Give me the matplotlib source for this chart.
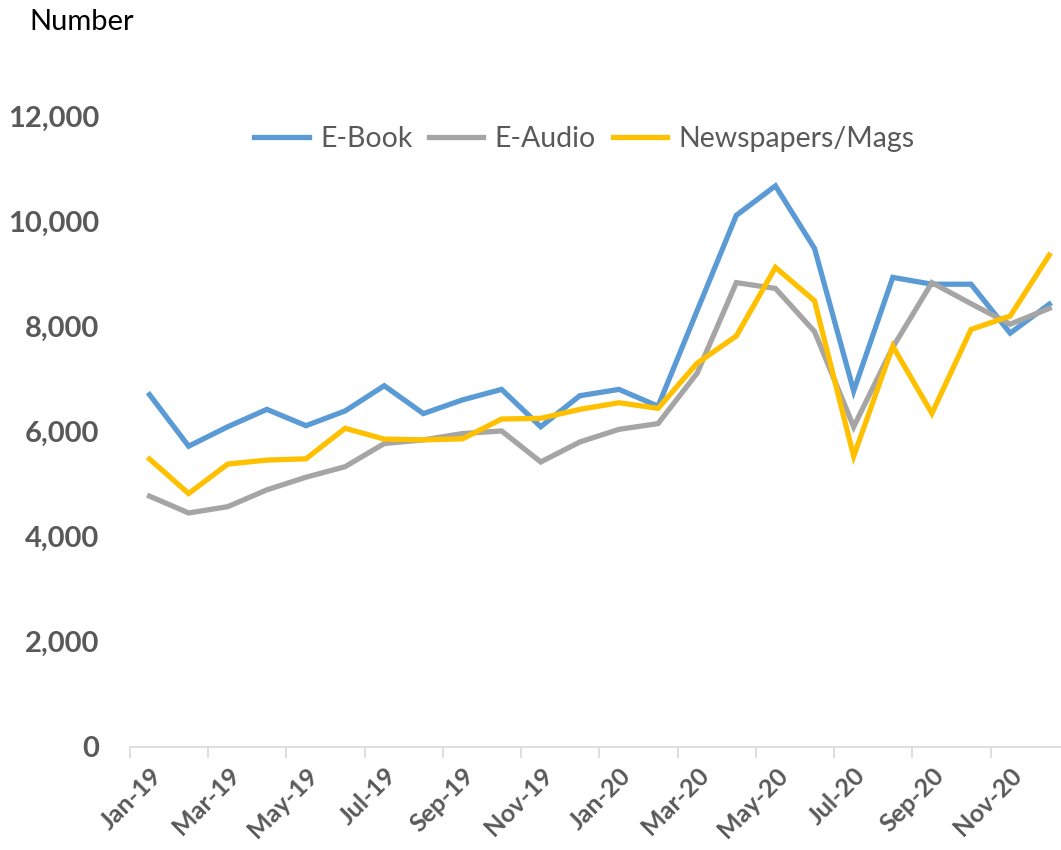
import matplotlib.pyplot as plt

months = ["Jan-19", "Feb-19", "Mar-19", "Apr-19", "May-19", "Jun-19",
          "Jul-19", "Aug-19", "Sep-19", "Oct-19", "Nov-19", "Dec-19",
          "Jan-20", "Feb-20", "Mar-20", "Apr-20", "May-20", "Jun-20",
          "Jul-20", "Aug-20", "Sep-20", "Oct-20", "Nov-20", "Dec-20"]

ebook = [6700, 5720, 6090, 6420, 6110, 6390, 6870, 6340, 6600, 6800, 6090, 6680,
         6800, 6480, 8300, 10110, 10670, 9480, 6770, 8930, 8800, 8800, 7870, 8420]
eaudio = [4770, 4450, 4570, 4890, 5130, 5330, 5770, 5840, 5960, 6010, 5420, 5800,
          6040, 6150, 7110, 8830, 8720, 7900, 6090, 7600, 8830, 8430, 8040, 8340]
news = [5475, 4820, 5380, 5456, 5480, 6060, 5855, 5840, 5860, 6236, 6250, 6420,
        6546, 6440, 7300, 7814, 9120, 8485, 5530, 7620, 6344, 7940, 8194, 9354]

plt.rcParams['font.family'] = ['Lato', 'DejaVu Sans']

fig = plt.figure(figsize=(10.61, 8.5), dpi=100)
ax = fig.add_axes([0.1225, 0.1212, 0.8775, 0.7424])

x = list(range(len(months)))
ax.plot(x, ebook, color='#5B9BD5', linewidth=3.8, solid_joinstyle='miter', label='E-Book')
ax.plot(x, eaudio, color='#A5A5A5', linewidth=3.8, solid_joinstyle='miter', label='E-Audio')
ax.plot(x, news, color='#FFC000', linewidth=3.8, solid_joinstyle='miter', label='Newspapers/Mags')

ax.set_xlim(-0.5, 23.3)
ax.set_ylim(0, 12000)

ax.set_yticks(range(0, 12001, 2000))
ax.set_yticklabels([f"{v:,}" for v in range(0, 12001, 2000)])
ax.tick_params(axis='y', length=0, pad=22, labelsize=21, labelcolor='#595959')
for t in ax.get_yticklabels():
    t.set_fontweight('bold')

ax.set_xticks(x[::2])
ax.set_xticklabels(months[::2], rotation=45, ha='right', rotation_mode='anchor',
                   fontsize=18, fontweight='bold', color='#595959')
ax.tick_params(axis='x', which='major', length=0, pad=12)
ax.set_xticks([i - 0.5 for i in range(0, 24, 2)], minor=True)
ax.tick_params(axis='x', which='minor', length=8, color='#D9D9D9', width=1.2)

for s in ['top', 'right', 'left']:
    ax.spines[s].set_visible(False)
ax.spines['bottom'].set_color('#D9D9D9')
ax.spines['bottom'].set_linewidth(1.2)

ax.legend(loc='center', bbox_to_anchor=(0.551, 0.836), bbox_transform=fig.transFigure,
          ncol=3, frameon=False, fontsize=20.5, handlelength=1.9, columnspacing=0.6,
          handletextpad=0.4, labelcolor='#595959')

fig.text(0.028, 0.974, "Number", fontsize=21, va='center', ha='left', color='black')

fig.savefig("out.png", dpi=100)
